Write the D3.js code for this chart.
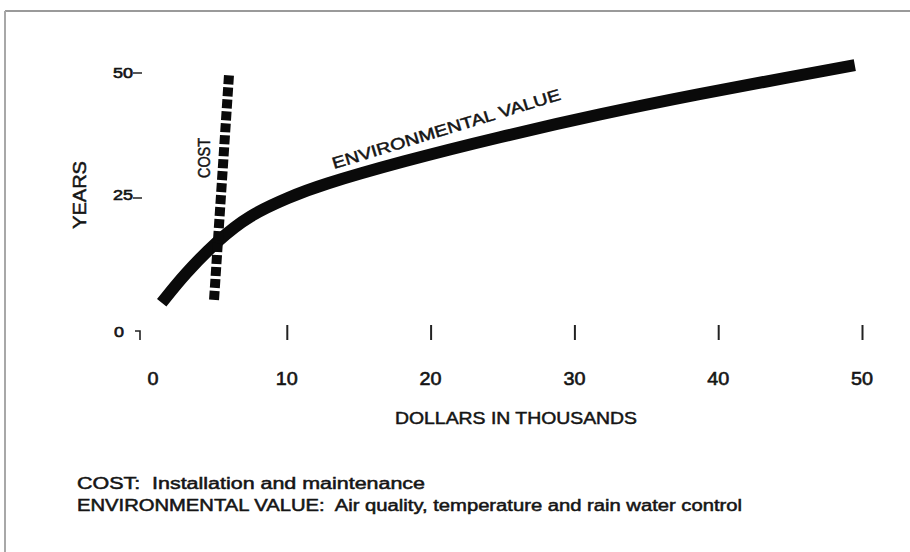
<!DOCTYPE html>
<html>
<head>
<meta charset="utf-8">
<script src="https://cdn.jsdelivr.net/npm/d3@7"></script>
<style>
  html, body { margin: 0; padding: 0; background: #fff; }
  svg { display: block; }
  text { font-family: "Liberation Sans", Arial, sans-serif; fill: #151515; }
</style>
</head>
<body>
<svg id="chart" width="910" height="552"></svg>
<script>
// ---- data ----
const xTickValues = [0, 10, 20, 30, 40, 50];
const yTickValues = [0, 25, 50];
const envX = [1.3, 2.9, 5.15, 7.4, 10.2, 12.3, 17.9, 24.8, 31.8, 38.7, 45.0, 49.5];
const envY = [2.9, 8.8, 15.6, 20.9, 24.6, 27.0, 31.8, 36.9, 41.6, 45.7, 49.2, 51.6];
const costX = [4.94, 5.98];
const costY = [3.5, 49.6];
const xTitle = "DOLLARS IN THOUSANDS";
const yTitle = "YEARS";
const costLabel = "COST";
const envLabel = "ENVIRONMENTAL VALUE";
const notes = ["COST:  Installation and maintenance",
               "ENVIRONMENTAL VALUE:  Air quality, temperature and rain water control"];

// ---- scales ----
const svg = d3.select("#chart");
const x = d3.scaleLinear().domain([0, 50]).range([143, 862]);
const y = d3.scaleLinear().domain([0, 50]).range([317, 73]);

// scan frame (top and left edges only)
svg.append("line").attr("x1", 5).attr("y1", 11).attr("x2", 910).attr("y2", 11)
  .attr("stroke", "#9a9a9a").attr("stroke-width", 2);
svg.append("line").attr("x1", 5).attr("y1", 11).attr("x2", 5).attr("y2", 552)
  .attr("stroke", "#a8a8a8").attr("stroke-width", 2);

const txtStroke = (sel, w) => sel.attr("stroke", "#151515").attr("stroke-width", w);

// ---- x axis (ticks as short vertical bars, labels below) ----
const xAxis = d3.axisBottom(x).tickValues(xTickValues.filter(d => d > 0))
  .tickSize(0).tickFormat("");
const gx = svg.append("g").attr("transform", "translate(0,325)").call(xAxis);
gx.select(".domain").remove();
gx.selectAll(".tick").append("line")
  .attr("y1", 0).attr("y2", 15).attr("stroke", "#222").attr("stroke-width", 2);

svg.append("g").selectAll("text").data(xTickValues).join("text")
  .attr("x", d => d === 0 ? x(d) + 10 : x(d))
  .attr("y", 385)
  .attr("text-anchor", "middle")
  .attr("font-size", 18)
  .attr("textLength", d => String(d).length * 11)
  .attr("lengthAdjust", "spacingAndGlyphs")
  .text(d => d)
  .call(txtStroke, 0.6);

// ---- y axis (labels with a trailing dash) ----
const gy = svg.append("g");
gy.selectAll("text").data(yTickValues).join("text")
  .attr("x", d => d === 0 ? 124 : 133)
  .attr("y", d => d === 0 ? 337 : y(d) + 5)
  .attr("text-anchor", "end")
  .attr("font-size", d => d === 0 ? 15 : 14)
  .attr("textLength", d => String(d).length * 10)
  .attr("lengthAdjust", "spacingAndGlyphs")
  .text(d => d)
  .call(txtStroke, 0.6);
gy.selectAll("line").data(yTickValues.filter(d => d > 0)).join("line")
  .attr("x1", 133).attr("x2", 142)
  .attr("y1", d => y(d) + (d === 25 ? 3 : 0))
  .attr("y2", d => y(d) + (d === 25 ? 3 : 0))
  .attr("stroke", "#222").attr("stroke-width", 1.5);
// corner mark at origin
svg.append("path")
  .attr("d", `M${x(0) - 8},${331} H${x(0) - 3} V${340}`)
  .attr("fill", "none").attr("stroke", "#222").attr("stroke-width", 1.6);

// ---- titles ----
svg.append("text").attr("x", 516).attr("y", 424).attr("text-anchor", "middle")
  .attr("font-size", 17).attr("textLength", 242).attr("lengthAdjust", "spacingAndGlyphs")
  .text(xTitle).call(txtStroke, 0.5);
svg.append("text").attr("transform", "translate(86,195) rotate(-90)")
  .attr("text-anchor", "middle").attr("font-size", 18)
  .attr("textLength", 68).attr("lengthAdjust", "spacingAndGlyphs")
  .text(yTitle).call(txtStroke, 0.5);

// ---- series ----
const envData = envX.map((v, i) => [v, envY[i]]);
const costData = costX.map((v, i) => [v, costY[i]]);
const line = d3.line().x(d => x(d[0])).y(d => y(d[1])).curve(d3.curveBasis);

svg.append("path").datum(envData).attr("d", line)
  .attr("fill", "none").attr("stroke", "#0a0a0a").attr("stroke-width", 12)
  .attr("stroke-linecap", "butt").attr("stroke-linejoin", "round");

svg.append("path").datum(costData).attr("d", d3.line().x(d => x(d[0])).y(d => y(d[1])))
  .attr("fill", "none").attr("stroke", "#0a0a0a").attr("stroke-width", 10)
  .attr("stroke-dasharray", "9,3");

// ---- series labels ----
svg.append("text").attr("transform", "translate(210,158) rotate(-90)")
  .attr("text-anchor", "middle").attr("font-size", 16)
  .attr("textLength", 40).attr("lengthAdjust", "spacingAndGlyphs")
  .text(costLabel).call(txtStroke, 0.5);
svg.append("text").attr("transform", "translate(334,169) rotate(-17)")
  .attr("font-size", 16)
  .attr("textLength", 238).attr("lengthAdjust", "spacingAndGlyphs")
  .text(envLabel).call(txtStroke, 0.5);

// ---- notes ----
const noteLens = [348, 665];
svg.append("g").selectAll("text").data(notes).join("text")
  .attr("x", 77).attr("y", (d, i) => 489 + i * 22)
  .attr("font-size", 16)
  .attr("textLength", (d, i) => noteLens[i]).attr("lengthAdjust", "spacingAndGlyphs")
  .style("white-space", "pre")
  .text(d => d).call(txtStroke, 0.5);
</script>
</body>
</html>
